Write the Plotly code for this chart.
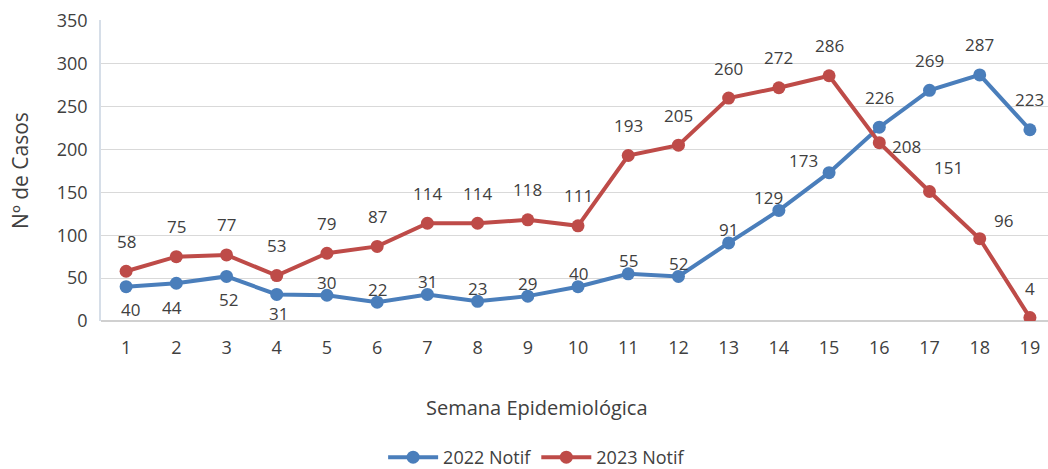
import plotly.graph_objects as go

semanas = list(range(1, 20))
notif_2022 = [40, 44, 52, 31, 30, 22, 31, 23, 29, 40, 55, 52, 91, 129, 173, 226, 269, 287, 223]
notif_2023 = [58, 75, 77, 53, 79, 87, 114, 114, 118, 111, 193, 205, 260, 272, 286, 208, 151, 96, 4]

# deslocamento (px) dos rótulos de dados, como no Excel
desloc_2022 = [(4, -23), (-4, -24), (2, -23), (2, -19)] + [(0, 13)] * 9 + [(-10, 13), (-26, 12)] + [(0, 30)] * 4
desloc_2023 = [(0, 30)] * 15 + [(27, -4), (19, 24), (24, 18), (0, 29)]

AZUL = "#4A7EBB"
VERMELHO = "#BE4B48"
TEXTO = "#404040"
FONTE = "Open Sans"

fig = go.Figure()
fig.add_trace(go.Scatter(x=semanas, y=notif_2022, name="2022 Notif", mode="lines+markers",
                         line=dict(color=AZUL, width=4), marker=dict(size=13, color=AZUL)))
fig.add_trace(go.Scatter(x=semanas, y=notif_2023, name="2023 Notif", mode="lines+markers",
                         line=dict(color=VERMELHO, width=4), marker=dict(size=13, color=VERMELHO)))

for serie, desloc in ((notif_2022, desloc_2022), (notif_2023, desloc_2023)):
    for s, v, (dx, dy) in zip(semanas, serie, desloc):
        fig.add_annotation(x=s, y=v, text=str(v), showarrow=False, xshift=dx, yshift=dy,
                           font=dict(family=FONTE, size=17, color=TEXTO))

fig.add_annotation(x=0.46, y=-0.286, xref="paper", yref="paper", text="Semana Epidemiológica",
                   showarrow=False, yanchor="middle", font=dict(family=FONTE, size=20, color=TEXTO))

fig.update_layout(
    width=1048, height=469,
    margin=dict(l=101, r=0, t=20, b=148, autoexpand=False),
    paper_bgcolor="white", plot_bgcolor="white",
    font=dict(family=FONTE, size=17, color=TEXTO),
    showlegend=True,
    legend=dict(orientation="h", x=0.46, y=-0.515, xanchor="center", yanchor="bottom",
                font=dict(family=FONTE, size=18, color=TEXTO), itemwidth=50, tracegroupgap=0),
    xaxis=dict(range=[0.5, 19.36], tickmode="array", tickvals=semanas, ticktext=[str(s) for s in semanas],
               showgrid=False, zeroline=False, showline=False, ticklabelstandoff=14,
               tickfont=dict(size=18)),
    yaxis=dict(range=[0, 351], tickmode="array", tickvals=[0, 50, 100, 150, 200, 250, 300, 350],
               showgrid=True, gridcolor="#D9D9D9", gridwidth=1,
               zeroline=True, zerolinecolor="#D0D0D0", zerolinewidth=1.5,
               showline=True, linecolor="#D6DEE8", linewidth=1.5,
               ticklabelstandoff=8, tickfont=dict(size=18),
               title=dict(text="Nº de Casos", standoff=22, font=dict(family=FONTE, size=21, color=TEXTO))),
)

# tira a margem padrão do body para o gráfico ocupar a janela toda
fig.write_html("out.html", config={"displayModeBar": False},
               post_script="document.body.style.margin='0';document.body.style.overflow='hidden';")
